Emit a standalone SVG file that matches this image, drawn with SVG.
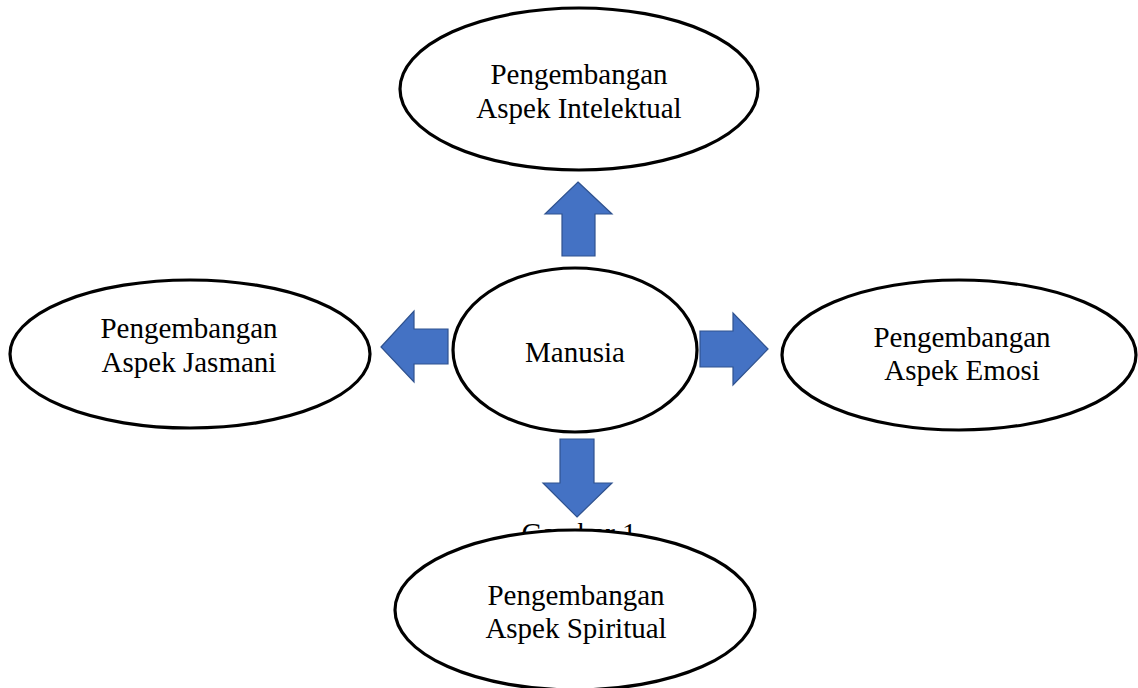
<svg xmlns="http://www.w3.org/2000/svg" width="1138" height="688" viewBox="0 0 1138 688">
<style>
.node ellipse{fill:#fff;stroke:#000;stroke-width:3.2}
.lbl{font-family:"Liberation Serif","Times New Roman",serif;font-size:29px;fill:#000;text-anchor:middle}
.arr{fill:#4472C4;stroke:#2F528F;stroke-width:1.2;stroke-linejoin:miter}
</style>
<rect width="1138" height="688" fill="#fff"/>
<text class="lbl" x="579" y="543">Gambar 1</text>
<g id="connectors">
<polygon class="arr" points="578,182 612,214 595,214 595,256 562,256 562,214 545,214"/>
<polygon class="arr" points="577,517 612,483 594,483 594,439 560,439 560,483 543,483"/>
<polygon class="arr" points="381,347 414,311 414,329 448,329 448,364 414,364 414,382"/>
<polygon class="arr" points="768,349 733,313 733,331 700,331 700,367 733,367 733,385"/>
</g>
<g id="node-intelektual" class="node">
<ellipse cx="579" cy="89" rx="179" ry="81"/>
<text class="lbl" x="579" y="84">Pengembangan</text>
<text class="lbl" x="579" y="118">Aspek Intelektual</text>
</g>
<g id="node-jasmani" class="node">
<ellipse cx="190" cy="354" rx="180" ry="74"/>
<text class="lbl" x="189" y="338">Pengembangan</text>
<text class="lbl" x="189" y="372">Aspek Jasmani</text>
</g>
<g id="node-emosi" class="node">
<ellipse cx="959" cy="355" rx="177" ry="75"/>
<text class="lbl" x="962" y="347">Pengembangan</text>
<text class="lbl" x="962" y="380">Aspek Emosi</text>
</g>
<g id="node-manusia" class="node">
<ellipse cx="575" cy="350" rx="122" ry="82"/>
<text class="lbl" x="575" y="362">Manusia</text>
</g>
<g id="node-spiritual" class="node">
<ellipse cx="575" cy="610" rx="180" ry="80"/>
<text class="lbl" x="576" y="605">Pengembangan</text>
<text class="lbl" x="576" y="638">Aspek Spiritual</text>
</g>
</svg>
